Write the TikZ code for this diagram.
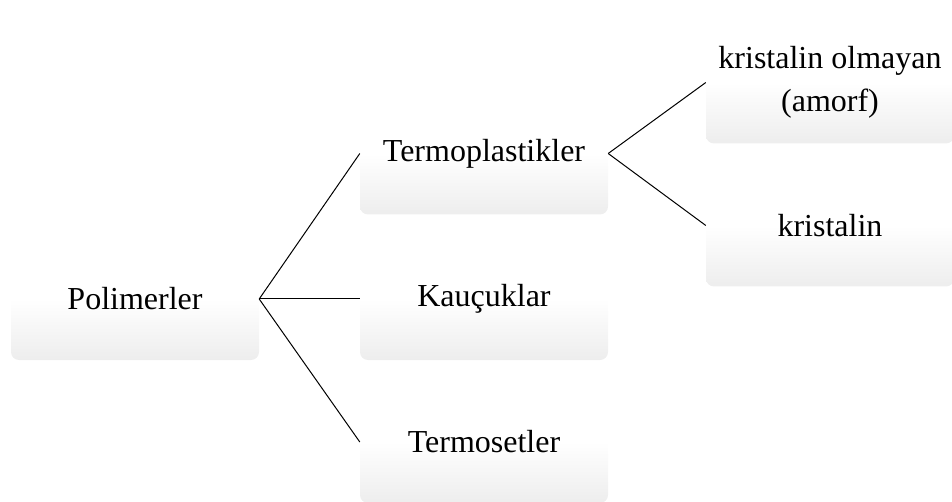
\documentclass[tikz,border=0pt]{standalone}
\usepackage{fontspec}
\setmainfont{Liberation Serif}
\pgfdeclareverticalshading{boxshade}{100bp}{color(0bp)=(black!12); color(25bp)=(black!7); color(50bp)=(white); color(100bp)=(white)}
\tikzset{
  box/.style={rectangle, rounded corners=8pt, shading=boxshade, draw=none,
    minimum width=248pt, minimum height=122pt, inner sep=0pt, align=center,
    font=\fontsize{32}{43}\selectfont},
  link/.style={draw=black, line width=1pt}
}
\begin{document}
\begin{tikzpicture}[x=1pt,y=-1pt]
\useasboundingbox (0,0) rectangle (952,502);
\node[box] (pol) at (135,299) {Polimerler};
\node[box] (tp) at (484,153.5) {Termoplastikler};
\node[box] (ka) at (484,299) {Kauçuklar};
\node[box] (ts) at (484,442) {Termosetler};
\node[box] (ko) at (830,82.5) {kristalin olmayan\\(amorf)};
\node[box] (kr) at (830,225.5) {kristalin};
\draw[link] (pol.east) -- (tp.west);
\draw[link] (pol.east) -- (ka.west);
\draw[link] (pol.east) -- (ts.west);
\draw[link] (tp.east) -- (ko.west);
\draw[link] (tp.east) -- (kr.west);
\end{tikzpicture}
\end{document}
